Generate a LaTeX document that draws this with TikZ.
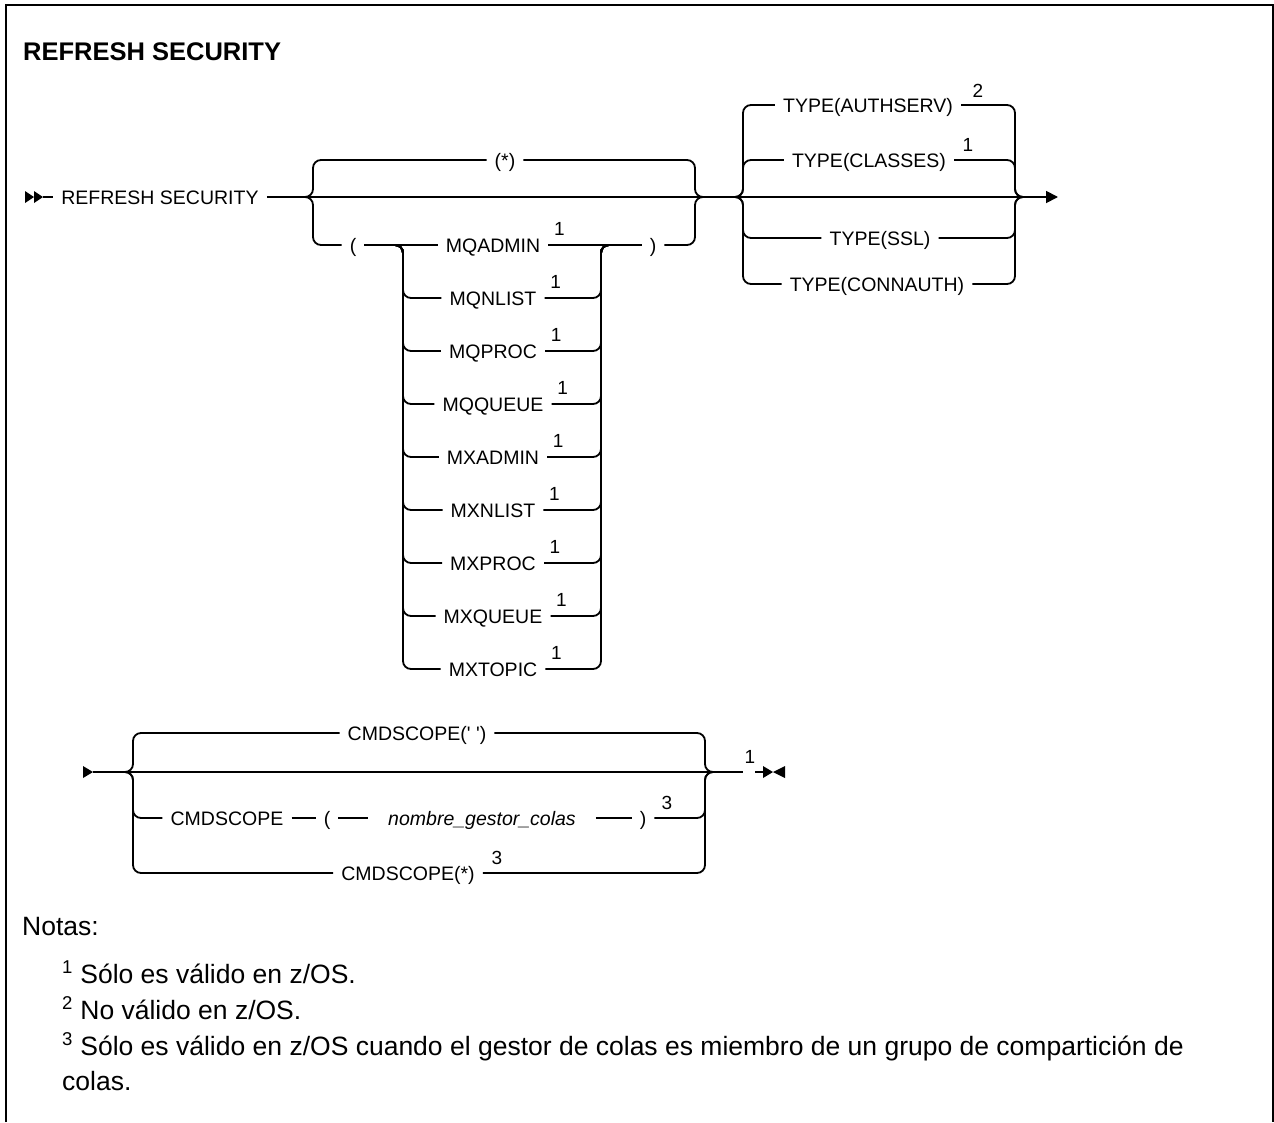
\documentclass[tikz,border=0pt]{standalone}
\usepackage{fontspec}
\setmainfont{Liberation Sans}
\newfontfamily\railfont{Liberation Sans}
\usetikzlibrary{arrows.meta}

\begin{document}
\begin{tikzpicture}[x=1pt, y=-1pt,
    rail/.style={line width=1.8pt, rounded corners=8pt},
    kw/.style={font=\railfont\fontsize{19.5}{22}\selectfont, inner xsep=8pt, inner ysep=0pt,
               text height=14pt, text depth=0pt},
    var/.style={kw, font=\railfont\itshape\fontsize{19.5}{22}\selectfont, inner xsep=20pt},
    sup/.style={font=\railfont\fontsize{19}{20}\selectfont, inner sep=0pt},
    note/.style={font=\fontsize{26.5}{30}\selectfont, inner sep=0pt, anchor=base west}
]
    \useasboundingbox (0,0) rectangle (1274,1122);

    % Marco
    \draw[line width=2.5pt] (6,1122) |- (1273,5) -- (1273,1122);

    % Titulo
    \node[anchor=west, inner sep=0pt, font=\bfseries\fontsize{25.5}{28}\selectfont] (title) at (23,52) {REFRESH SECURITY};

    % Puntos de union
    \coordinate (st1) at (43,197);
    \coordinate (g1l) at (313,197);
    \coordinate (g1r) at (695,197);
    \coordinate (il) at (403,245);
    \coordinate (ir) at (601,245);
    \coordinate (g2l) at (743,197);
    \coordinate (g2r) at (1015,197);
    \coordinate (fin) at (1058,197);
    \coordinate (st2) at (93,772);
    \coordinate (g3l) at (133,772);
    \coordinate (g3r) at (705,772);
    \coordinate (e2a) at (743,772);
    \coordinate (e2b) at (755,772);
    \coordinate (e2c) at (763,772);

    % Linea principal
    \fill (25,191) -- (34,197) -- (25,203) -- cycle;
    \fill (34,191) -- (43,197) -- (34,203) -- cycle;
    \node[kw] (cmd) at (160,197) {REFRESH SECURITY};
    \draw[rail] (st1) -- (cmd.west);
    \draw[rail, -{Triangle[length=12pt, width=12pt]}] (cmd.east) -- (fin);

    % (*) o lista
    \node[kw] (star) at (505,160) {(*)};
    \node[kw, inner xsep=8pt] (lp) at (353,245) {(};
    \node[kw, inner xsep=8pt] (rp) at (653,245) {)};
    \node[kw] (qadmin) at (493,245) {MQADMIN};
    \node[sup] (qadmin-n) at ([xshift=11pt, yshift=16pt]qadmin.east) {1};
    \draw[rail] ([xshift=-8pt]g1l) -- (g1l) |- (star.west);
    \draw[rail] (star.east) -| (g1r) -- ([xshift=8pt]g1r);
    \draw[rail] ([xshift=-8pt]g1l) -- (g1l) |- (lp.west);
    \draw[rail] (lp.east) -- (qadmin.west);
    \draw[rail] (qadmin.east) -- (rp.west);
    \draw[rail] (rp.east) -| (g1r) -- ([xshift=8pt]g1r);

    \foreach \nm/\txt/\yy in {qnlist/MQNLIST/298, qproc/MQPROC/351, qqueue/MQQUEUE/404,
                              xadmin/MXADMIN/457, xnlist/MXNLIST/510, xproc/MXPROC/563,
                              xqueue/MXQUEUE/616, xtopic/MXTOPIC/669}{
        \node[kw] (\nm) at (493,\yy) {\txt};
        \node[sup] (\nm-n) at ([xshift=11pt, yshift=16pt]\nm.east) {1};
        \draw[rail] ([xshift=-8pt]il) -- (il) |- (\nm.west);
        \draw[rail] (\nm.east) -| (ir) -- ([xshift=8pt]ir);
    }

    % TYPE
    \node[kw] (authserv) at (868,105) {TYPE(AUTHSERV)};
    \node[sup] (authserv-n) at (978,91) {2};
    \node[kw] (classes) at (869,160) {TYPE(CLASSES)};
    \node[sup] (classes-n) at (968,145) {1};
    \node[kw] (ssl) at (880,238) {TYPE(SSL)};
    \node[kw] (connauth) at (877,284) {TYPE(CONNAUTH)};
    \foreach \nm in {authserv, classes, ssl, connauth}{
        \draw[rail] ([xshift=-8pt]g2l) -- (g2l) |- (\nm.west);
        \draw[rail] (\nm.east) -| (g2r) -- ([xshift=8pt]g2r);
    }

    % CMDSCOPE
    \fill (83,766) -- (93,772) -- (83,778) -- cycle;
    \node[kw] (blank) at (417,733) {CMDSCOPE(' ')};
    \node[kw] (cs) at (227,818) {CMDSCOPE};
    \node[kw] (lp2) at (327,818) {(};
    \node[var] (qm) at (482,818) {nombre\_gestor\_colas};
    \node[kw] (rp2) at (643,818) {)};
    \node[sup] (rp2-n) at (667,803) {3};
    \node[kw] (csall) at (408,873) {CMDSCOPE(*)};
    \node[sup] (csall-n) at (497,858) {3};
    \node[sup] (fin-n) at (750,757) {1};

    \draw[rail] (st2) -- (e2a);
    \draw[rail] ([xshift=-8pt]g3l) -- (g3l) |- (blank.west);
    \draw[rail] (blank.east) -| (g3r) -- ([xshift=8pt]g3r);
    \draw[rail] ([xshift=-8pt]g3l) -- (g3l) |- (cs.west);
    \draw[rail] (cs.east) -- (lp2.west);
    \draw[rail] (lp2.east) -- (qm.west);
    \draw[rail] (qm.east) -- (rp2.west);
    \draw[rail] (rp2.east) -| (g3r) -- ([xshift=8pt]g3r);
    \draw[rail] ([xshift=-8pt]g3l) -- (g3l) |- (csall.west);
    \draw[rail] (csall.east) -| (g3r) -- ([xshift=8pt]g3r);
    \draw[rail] (e2b) -- (e2c);
    \fill (763,766) -- (773,772) -- (763,778) -- cycle;
    \fill (785,766) -- (773,772) -- (785,778) -- cycle;

    % Notas
    \node[note] (notas) at (22,935) {Notas:};
    \node[note] (nota1) at (62,983) {\textsuperscript{1} Sólo es válido en z/OS.};
    \node[note] (nota2) at (62,1019) {\textsuperscript{2} No válido en z/OS.};
    \node[note] (nota3) at (62,1055) {\textsuperscript{3} Sólo es válido en z/OS cuando el gestor de colas es miembro de un grupo de compartición de};
    \node[note] (nota3b) at (62,1090) {colas.};
\end{tikzpicture}
\end{document}
